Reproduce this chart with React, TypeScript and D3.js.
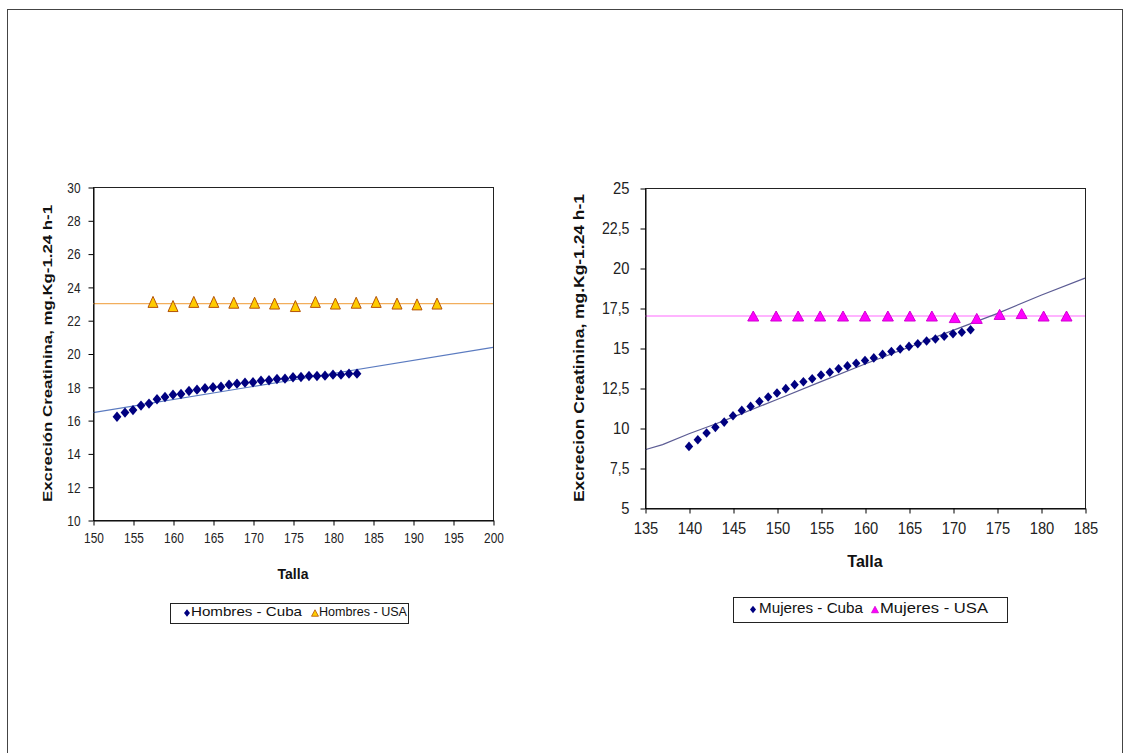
import React, { useEffect, useRef } from 'react';
import * as d3 from 'd3';

// Hombres
const hombresCubaTalla = [153, 154, 155, 156, 157, 158, 159, 160, 161, 162, 163, 164, 165, 166, 167, 168, 169, 170, 171, 172, 173, 174, 175, 176, 177, 178, 179, 180, 181, 182, 183];
const hombresCubaExcrecion = [16.2, 16.45, 16.6, 16.87, 16.99, 17.25, 17.39, 17.53, 17.57, 17.75, 17.83, 17.91, 17.97, 18.0, 18.13, 18.19, 18.25, 18.27, 18.37, 18.39, 18.47, 18.49, 18.57, 18.59, 18.65, 18.65, 18.67, 18.73, 18.73, 18.79, 18.79];
const hombresUsaTalla = [157.5, 160.0, 162.6, 165.1, 167.6, 170.2, 172.7, 175.3, 177.8, 180.3, 182.9, 185.4, 188.0, 190.5, 193.0];
const hombresUsaExcrecion = [23.1, 22.85, 23.1, 23.1, 23.05, 23.05, 23.0, 22.85, 23.1, 23.0, 23.05, 23.1, 23.0, 22.95, 23.0];
const hombresUsaReferencia = 23.0;
const hombresTendenciaTalla = [150, 175, 200];
const hombresTendenciaExcrecion = [16.45, 18.41, 20.37];
const hombresTicksX = [150, 155, 160, 165, 170, 175, 180, 185, 190, 195, 200];
const hombresTicksY = [10, 12, 14, 16, 18, 20, 22, 24, 26, 28, 30];

// Mujeres
const mujeresCubaTalla = [140, 141, 142, 143, 144, 145, 146, 147, 148, 149, 150, 151, 152, 153, 154, 155, 156, 157, 158, 159, 160, 161, 162, 163, 164, 165, 166, 167, 168, 169, 170, 171, 172];
const mujeresCubaExcrecion = [8.85, 9.27, 9.69, 10.04, 10.37, 10.77, 11.1, 11.35, 11.66, 11.94, 12.19, 12.46, 12.71, 12.89, 13.08, 13.31, 13.48, 13.7, 13.88, 14.05, 14.22, 14.38, 14.6, 14.78, 14.94, 15.1, 15.27, 15.44, 15.56, 15.73, 15.89, 15.98, 16.14];
const mujeresUsaTalla = [147.3, 149.9, 152.4, 154.9, 157.5, 160.0, 162.6, 165.1, 167.6, 170.2, 172.7, 175.3, 177.8, 180.3, 182.9];
const mujeresUsaExcrecion = [17.0, 17.0, 17.0, 17.0, 17.0, 17.0, 17.0, 17.0, 17.0, 16.9, 16.85, 17.1, 17.15, 17.0, 17.0];
const mujeresUsaReferencia = 17.0;
const mujeresTendenciaTalla = [135, 137, 140, 143, 145, 150, 155, 160, 165, 170, 175, 180, 185];
const mujeresTendenciaExcrecion = [8.64, 8.96, 9.64, 10.25, 10.68, 11.78, 12.9, 14.0, 15.05, 16.1, 17.15, 18.3, 19.37];
const mujeresTicksX = [135, 140, 145, 150, 155, 160, 165, 170, 175, 180, 185];
const mujeresTicksY = [5, 7.5, 10, 12.5, 15, 17.5, 20, 22.5, 25];

const FONT = "'Liberation Sans', Arial, sans-serif";

const diamond = (w, h) => `M0,${-h}L${w},0L0,${h}L${-w},0Z`;
const triangle = (w, h) => `M0,${-h / 2}L${w / 2},${h / 2}L${-w / 2},${h / 2}Z`;

const fmt = (v) => String(v).replace('.', ',');

function drawPanel(svg, p) {
  const x = d3.scaleLinear().domain(p.xDomain).range([p.left, p.right]);
  const y = d3.scaleLinear().domain(p.yDomain).range([p.bottom, p.top]);
  const g = svg.append('g');

  // marco del area de trazado
  g.append('rect')
    .attr('x', p.left + 0.5)
    .attr('y', p.top + 0.5)
    .attr('width', p.right - p.left)
    .attr('height', p.bottom - p.top)
    .attr('fill', 'none')
    .attr('stroke', '#222');

  // linea de referencia USA
  g.append('line')
    .attr('x1', x(p.xDomain[0]))
    .attr('x2', x(p.xDomain[1]))
    .attr('y1', y(p.usaRef))
    .attr('y2', y(p.usaRef))
    .attr('stroke', p.usaLine)
    .attr('stroke-width', 1.2);

  // tendencia Cuba
  const trend = d3.line().x((d) => x(d[0])).y((d) => y(d[1]));
  g.append('path')
    .attr('d', trend(d3.zip(p.trendX, p.trendY)))
    .attr('fill', 'none')
    .attr('stroke', p.trendColor)
    .attr('stroke-width', 1.2);

  g.append('g')
    .selectAll('path')
    .data(d3.zip(p.cubaX, p.cubaY))
    .join('path')
    .attr('transform', (d) => `translate(${x(d[0])},${y(d[1])})`)
    .attr('d', diamond(p.diamondW, p.diamondH))
    .attr('fill', '#000080');

  g.append('g')
    .selectAll('path')
    .data(d3.zip(p.usaX, p.usaY))
    .join('path')
    .attr('transform', (d) => `translate(${x(d[0])},${y(d[1])})`)
    .attr('d', triangle(p.triW, p.triH))
    .attr('fill', p.triFill)
    .attr('stroke', p.triStroke)
    .attr('stroke-width', 1);

  // ejes
  const ax = g.append('g')
    .attr('transform', `translate(0.5,${p.bottom + 0.5})`)
    .call(d3.axisBottom(x).tickValues(p.ticksX).tickSize(5).tickSizeOuter(0).tickPadding(p.xPad).tickFormat(fmt));
  const ay = g.append('g')
    .attr('transform', `translate(${p.left + 0.5},0.5)`)
    .call(d3.axisLeft(y).tickValues(p.ticksY).tickSize(5).tickSizeOuter(0).tickPadding(p.yPad).tickFormat(fmt));

  [ax, ay].forEach((a) => {
    a.select('.domain').attr('stroke', '#000');
    a.selectAll('.tick line').attr('stroke', '#000');
    a.selectAll('.tick text')
      .attr('font-family', FONT)
      .attr('font-size', p.tickFont)
      .attr('fill', '#222')
      .attr('textLength', (d) => {
        const s = fmt(d);
        const digits = s.replace(',', '').length;
        return digits * p.digitW + (s.includes(',') ? 3 : 0);
      })
      .attr('lengthAdjust', 'spacingAndGlyphs');
  });

  // titulos
  svg.append('text')
    .attr('transform', `translate(${p.yTitleX},${(p.top + p.bottom) / 2}) rotate(-90)`)
    .attr('text-anchor', 'middle')
    .attr('dominant-baseline', 'middle')
    .attr('font-family', FONT)
    .attr('font-weight', 'bold')
    .attr('font-size', p.yTitleFont)
    .attr('textLength', p.yTitleLen)
    .attr('lengthAdjust', 'spacingAndGlyphs')
    .attr('fill', '#111')
    .text(p.yTitle);

  svg.append('text')
    .attr('x', (p.left + p.right) / 2)
    .attr('y', p.xTitleY)
    .attr('text-anchor', 'middle')
    .attr('dominant-baseline', 'middle')
    .attr('font-family', FONT)
    .attr('font-weight', 'bold')
    .attr('font-size', p.xTitleFont)
    .attr('fill', '#111')
    .text('Talla');

  // leyenda
  const L = p.legend;
  const lg = svg.append('g');
  lg.append('rect')
    .attr('x', L.x0 + 0.5)
    .attr('y', L.y0 + 0.5)
    .attr('width', L.x1 - L.x0)
    .attr('height', L.y1 - L.y0)
    .attr('fill', '#fff')
    .attr('stroke', '#222');
  const cy = (L.y0 + L.y1) / 2;
  lg.append('path')
    .attr('transform', `translate(${L.m1},${cy})`)
    .attr('d', diamond(3, 3.8))
    .attr('fill', '#000080');
  lg.append('path')
    .attr('transform', `translate(${L.m2},${cy})`)
    .attr('d', triangle(7, 6.5))
    .attr('fill', p.triFill)
    .attr('stroke', p.triStroke)
    .attr('stroke-width', 0.8);
  [[L.t1, L.w1, L.labels[0]], [L.t2, L.w2, L.labels[1]]].forEach(([tx, tw, label]) => {
    lg.append('text')
      .attr('x', tx)
      .attr('y', cy)
      .attr('dominant-baseline', 'middle')
      .attr('font-family', FONT)
      .attr('font-size', L.font)
      .attr('textLength', tw)
      .attr('lengthAdjust', 'spacingAndGlyphs')
      .attr('fill', '#111')
      .text(label);
  });
}

function App() {
  const ref = useRef(null);

  useEffect(() => {
    const svg = d3.select(ref.current);
    svg.selectAll('*').remove();

    svg.append('rect')
      .attr('x', 7.5)
      .attr('y', 9.5)
      .attr('width', 1115)
      .attr('height', 780)
      .attr('fill', 'none')
      .attr('stroke', '#444');

    drawPanel(svg, {
      xDomain: [150, 200], yDomain: [10, 30],
      left: 93, right: 493, top: 187, bottom: 520,
      cubaX: hombresCubaTalla, cubaY: hombresCubaExcrecion,
      usaX: hombresUsaTalla, usaY: hombresUsaExcrecion, usaRef: hombresUsaReferencia,
      trendX: hombresTendenciaTalla, trendY: hombresTendenciaExcrecion,
      ticksX: hombresTicksX, ticksY: hombresTicksY,
      usaLine: '#F2AE5C', trendColor: '#5B7BC0',
      triFill: '#FFCC00', triStroke: '#B45309', triW: 10, triH: 11,
      diamondW: 4.4, diamondH: 5.2,
      tickFont: 15, digitW: 6.6, xPad: 7, yPad: 8,
      yTitle: 'Excreción Creatinina, mg.Kg-1.24 h-1', yTitleX: 49, yTitleFont: 13, yTitleLen: 297,
      xTitleY: 575, xTitleFont: 14,
      legend: { x0: 170, x1: 408, y0: 603, y1: 623, m1: 187, t1: 191, w1: 111, m2: 315, t2: 319, w2: 88, font: 13, labels: ['Hombres - Cuba', 'Hombres - USA'] },
    });

    drawPanel(svg, {
      xDomain: [135, 185], yDomain: [5, 25],
      left: 645, right: 1085, top: 188, bottom: 508,
      cubaX: mujeresCubaTalla, cubaY: mujeresCubaExcrecion,
      usaX: mujeresUsaTalla, usaY: mujeresUsaExcrecion, usaRef: mujeresUsaReferencia,
      trendX: mujeresTendenciaTalla, trendY: mujeresTendenciaExcrecion,
      ticksX: mujeresTicksX, ticksY: mujeresTicksY,
      usaLine: '#FF6BFF', trendColor: '#5C5C94',
      triFill: '#FF00FF', triStroke: '#D000D0', triW: 11, triH: 10,
      diamondW: 4.2, diamondH: 4.8,
      tickFont: 16, digitW: 8.2, xPad: 9, yPad: 11,
      yTitle: 'Excrecion Creatinina, mg.Kg-1.24 h-1', yTitleX: 580, yTitleFont: 14, yTitleLen: 308,
      xTitleY: 563, xTitleFont: 16,
      legend: { x0: 733, x1: 1007, y0: 597, y1: 622, m1: 753, t1: 759, w1: 104, m2: 875, t2: 880, w2: 108, font: 14, labels: ['Mujeres - Cuba', 'Mujeres - USA'] },
    });
  }, []);

  return (
    <svg
      ref={ref}
      width={1125}
      height={753}
      style={{ position: 'absolute', left: 0, top: 0, background: '#fff' }}
    />
  );
}

export default App;
